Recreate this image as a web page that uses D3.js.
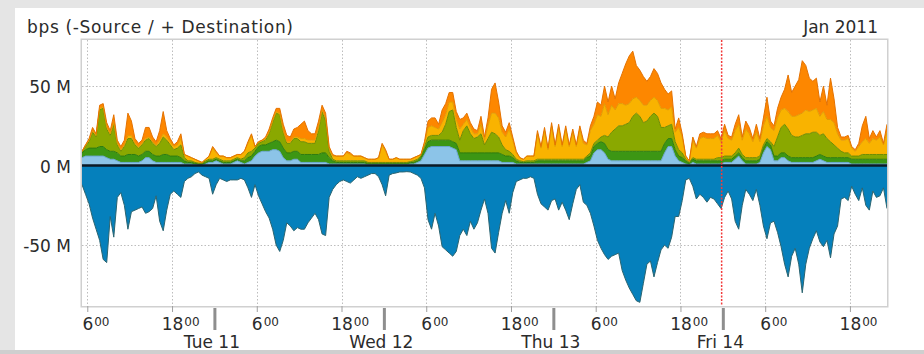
<!DOCTYPE html>
<html>
<head>
<meta charset="utf-8">
<script src="https://cdn.jsdelivr.net/npm/d3@7"></script>
<style>
  html, body { margin: 0; padding: 0; background: #e5e5e5; }
  svg { display: block; font-family: "DejaVu Sans", sans-serif; }
</style>
</head>
<body>
<svg id="chart" width="924" height="354"></svg>
<script>
// Half-hourly samples, Mon 10 Jan 2011 05:15 UTC onwards, values in Mbit/s
const seriesStart = Date.UTC(2011, 0, 10, 5, 15);
const stepMinutes = 30;

// Source traffic (drawn below zero)
const source = [
  12,18,24,33,40,47,59,61,32,45, 20,17,25,40,29,28,27,26,30,29,
  27,19,35,41,28,18,16,18,20,10, 8,7,5,4,6,7,8,18,12,8,
  9,10,9,9,9,8,9,14,20,12, 19,24,29,33,40,50,54,47,36,38,
  41,39,40,40,36,33,30,34,43,44, 20,15,12,10,9,10,11,9,7,8,
  7,6,5,5,7,12,19,6,5,4.6, 4,4,3.8,4,5,6,8,14,34,40,
  30,38,51,53,55,57,54,44,40,44, 35,40,36,28,21,30,52,55,42,30,
  22,30,17,10,9,8,8,7,8,18, 24,26,28,22,21,28,23,28,34,24,
  15,12,23,25,30,38,47,52,56,59, 57,56,55,66,72,77,81,85,86,74,
  62,60,70,61,53,50,52,45,32,32, 22,9,8,13,21,18,20,23,20,21,
  24,27,20,16,21,35,40,25,15,18, 22,15,25,38,46,36,35,42,51,62,
  70,57,52,62,80,62,52,46,41,48, 51,47,58,43,38,21,20,22,13,18,
  22,14,25,28,16,20,19,14,27
];

// Destination traffic, stacked above zero (bottom layer first)
const dstBlue = [
  5,6,6,6,6,6,6,5,4,4, 3,2,2,2,2,2,2,3,5,5,
  3,2,2,2,2,2,2,2,2,1, 1,1,0.5,0.5,0.5,1,2,2,3,2,
  1,1,1,2,3,2,1,2,3,6, 8,9,9,9,10,10,9,5,3,3,
  4,4,2,2,2,2,2,2,2,2, 1,1,1,1,1,1,1,1,1,1,
  1,0.5,0.5,0.5,0.5,0.5,0.5,0.5,0.5,0.5, 0.5,0.5,0.5,1,1,2,3,7,11,12,
  12,12,12,12,12,11,10,3,3,3, 3,3,3,3,3,3,3,3,3,2,
  2,2,2,1,1,1,1,1,1,1, 1,1,1,1,1,1,1,1,1,1,
  1,1,1,2,3,8,10,10,8,4, 3,3,3,3,3,3,3,3,3,3,
  3,3,3,3,3,8,12,12,6,3, 2,1,0.5,2,1,1,1,1,1,1,
  1,1,2,2,2,4,6,3,1,1, 1,1,2,8,12,10,3,3,5,5,
  3,2,2,2,2,2,2,2,3,4, 3,2,2,2,2,2,2,2,1,1,
  1,1,1,1,1,1,1,1,1
];
const dstGreen = [
  3,4,5,5,5,6,6,5,5,5, 5,4,4,5,5,5,4,4,4,4,
  4,4,4,5,5,4,4,4,3,2, 1,1,1,0.5,0.5,1,1,1,1,1,
  1,1,1,1,1,1,2,3,3,3, 4,4,4,5,5,6,6,6,5,5,
  5,5,5,5,5,5,5,5,6,6, 4,2,1,1,1,1,1,1,1,1,
  1,1,1,1,1,1,1,1,1,1, 1,1,1,1,1,1,2,3,4,4,
  4,4,4,4,4,4,4,5,5,5, 5,5,5,5,5,5,5,5,5,5,
  4,4,3,2,1,1,1,1,1,2, 2,2,2,2,2,2,2,2,2,2,
  2,2,2,3,3,4,4,5,6,6, 6,6,6,6,6,6,6,6,6,6,
  6,6,6,6,6,6,5,5,4,3, 3,2,1,2,2,2,2,2,2,2,
  2,2,2,2,2,2,2,2,2,2, 2,2,2,3,3,3,3,3,3,3,
  3,3,3,3,3,3,3,3,3,3, 3,3,3,3,3,3,3,3,3,3,
  3,3,3,3,3,3,3,3,3
];
const dstOlive = [
  1,2,4,10,7,23,24,13,10,17, 5,3,6,10,10,6,5,6,7,8,
  7,6,8,11,9,7,4,5,8,2, 1,1,0.5,0.5,0.5,1,1,1,1,1,
  1,1,1,1,1,1,2,3,3,2, 2,2,3,6,12,17,17,10,6,6,
  8,8,8,8,7,7,7,15,26,20, 4,1,1,1,1,1,1,1,1,1,
  1,0.5,0.5,0.5,0.5,0.5,0.5,0.5,0.5,0.5, 0.5,0.5,0.5,0.5,1,1,1,2,3,3,
  3,3,5,10,18,20,10,8,14,17, 12,9,10,12,5,9,13,12,10,6,
  4,3,2,1,1,0.5,1,1,1,1, 1,1,1,1,1,1,1,1,1,1,
  1,1,1,1,2,2,2,3,5,8, 12,14,16,16,17,18,22,24,22,18,
  19,22,24,22,15,10,8,9,5,4, 3,1,0.5,1,1,1,1,1,1,1,
  2,2,2,2,2,2,3,2,2,2, 2,2,2,2,2,2,6,12,16,18,
  17,14,13,13,14,15,15,16,15,12, 14,12,10,8,6,4,3,3,2,2,
  2,3,3,3,3,3,3,3,3
];
const dstAmber = [
  0,1,1,1,1,1,1,1,1,1, 1,1,1,2,2,1,1,1,1,1,
  1,1,2,2,2,2,2,2,4,2, 3,2,2,1.5,0.5,1,2,7,3,2,
  3,2,2,2,2,3,4,6,10,1, 1,1,1,1,1,1,1,1,1,1,
  1,1,2,2,2,2,2,2,1,2, 2,2,3,3,3,5,4,3,3,3,
  2,2,2,2,3,11,7,2,2,3, 2,2,2,1.5,2,2,1,2,6,6,
  5,4,6,6,6,5,5,7,4,4, 4,3,2,6,3,8,12,13,12,8,
  8,14,9,4,2,1.5,3,3,3,16, 7,18,6,21,8,20,8,19,8,17,
  8,19,10,7,14,12,16,13,20,14, 17,12,14,14,12,12,11,10,10,11,
  10,10,10,10,12,12,10,11,6,14, 10,2,1,11,7,13,14,13,13,13,
  14,10,16,11,10,14,15,9,18,15, 10,16,9,12,14,9,10,12,11,10,
  11,12,13,14,14,15,14,14,15,12, 14,12,14,14,9,7,8,9,5,3,
  6,8,10,7,10,9,11,6,14
];
const dstOrange = [
  0,0,1,2,1,2,2,3,2,5, 2,2,3,14,9,3,2,2,7,6,
  3,2,6,14,4,2,1,2,3,0, 0,0,0,0,0,0,0,1,1,0,
  0,0,0,0,0,0,0,1,1,0, 0,0,1,2,2,2,3,4,4,3,
  5,6,9,11,6,4,4,4,3,3, 1,1,0,0,0,1,1,0,0,0,
  0,0,0,0,0,1,1,0,0,0, 0,0,0,0,0,0,0,1,4,5,
  6,3,8,7,6,6,5,6,4,4, 3,3,2,5,2,5,15,19,10,4,
  3,4,2,1,0,0,0,0,0,2, 1,2,1,2,1,2,1,2,1,2,
  1,2,2,1,3,5,8,7,11,8, 12,7,13,19,26,30,30,20,19,18,
  15,15,18,17,16,12,10,10,2,6, 2,0,0,2,1,3,3,3,3,3,
  3,2,4,2,2,4,6,2,5,4, 2,5,2,5,12,4,3,6,8,12,
  23,15,19,22,33,28,21,18,19,9, 16,9,26,15,4,2,2,2,1,1,
  2,10,14,3,5,2,4,1,5
];

// Axis labels
const yTicks = [-50, 0, 50];
const hourLabels = [6, 18];
const dayLabels = ["Tue 11", "Wed 12", "Thu 13", "Fri 14"];
const titleText = "bps (-Source / + Destination)";
const periodText = "Jan 2011";
const nowMark = Date.UTC(2011, 0, 13, 23, 50);

// ---- layout ----
const W = 924, H = 354;
const plot = { left: 82, right: 887, top: 40, bottom: 306 };
const svg = d3.select("#chart");

const times = source.map((_, i) => new Date(seriesStart + i * stepMinutes * 60000));
const x = d3.scaleUtc()
  .domain([times[0], times[times.length - 1]])
  .range([plot.left, plot.right]);
const y = d3.scaleLinear().domain([-88.3, 79]).range([plot.bottom, plot.top]);

// page frame
svg.append("rect").attr("width", W).attr("height", H).attr("fill", "#e5e5e5");
svg.append("rect").attr("x", 15).attr("y", 8).attr("width", W - 15).attr("height", 342).attr("fill", "#ffffff");
svg.append("rect").attr("x", 0).attr("y", 350).attr("width", W).attr("height", 4).attr("fill", "#cfcfcf");

// grid (under the data)
const hourTicks = d3.utcHour.range(x.domain()[0], x.domain()[1])
  .filter(d => hourLabels.includes(d.getUTCHours()));
const dayTicks = d3.utcDay.range(x.domain()[0], x.domain()[1]);

const grid = svg.append("g").attr("stroke", "#bdbdbd").attr("stroke-width", 1)
  .attr("stroke-dasharray", "1.5,2");
grid.selectAll("line.v").data(hourTicks).join("line")
  .attr("x1", d => Math.round(x(d)) + 0.5).attr("x2", d => Math.round(x(d)) + 0.5)
  .attr("y1", plot.top).attr("y2", plot.bottom);
grid.selectAll("line.h").data(yTicks.filter(v => v !== 0)).join("line")
  .attr("x1", plot.left).attr("x2", plot.right)
  .attr("y1", d => Math.round(y(d)) + 0.5).attr("y2", d => Math.round(y(d)) + 0.5);

// data
svg.append("clipPath").attr("id", "plotClip").append("rect")
  .attr("x", plot.left).attr("y", plot.top)
  .attr("width", plot.right - plot.left).attr("height", plot.bottom - plot.top);
const dataG = svg.append("g").attr("clip-path", "url(#plotClip)");

const table = times.map((t, i) => ({
  t,
  blue: dstBlue[i], green: dstGreen[i], olive: dstOlive[i],
  amber: dstAmber[i], orange: dstOrange[i], src: source[i]
}));
const keys = ["blue", "green", "olive", "amber", "orange"];
const fills = { blue: "#8cc4e8", green: "#3c9614", olive: "#8aa800", amber: "#f9b300", orange: "#fd8700" };
const edges = { blue: "#6aa6cf", green: "#2e7c0e", olive: "#6f8c00", amber: "#e29c00", orange: "#e57200" };

// source below zero
dataG.append("path").datum(table)
  .attr("fill", "#0580bc")
  .attr("d", d3.area().x(d => x(d.t)).y0(y(0)).y1(d => y(-d.src)));
dataG.append("path").datum(table)
  .attr("fill", "none").attr("stroke", "#2b6470").attr("stroke-width", 1)
  .attr("d", d3.line().x(d => x(d.t)).y(d => y(-d.src)));

// destination stack above zero
const stacked = d3.stack().keys(keys)(table);
const areaGen = d3.area().x(d => x(d.data.t)).y0(d => y(d[0])).y1(d => y(d[1]));
const lineGen = d3.line().x(d => x(d.data.t)).y(d => y(d[1]));
dataG.selectAll("path.layer").data(stacked).join("path")
  .attr("class", "layer").attr("fill", s => fills[s.key]).attr("d", areaGen);
dataG.selectAll("path.edge").data(stacked).join("path")
  .attr("class", "edge").attr("fill", "none")
  .attr("stroke", s => edges[s.key]).attr("stroke-width", 1).attr("d", lineGen);

// zero rule
svg.append("line").attr("x1", plot.left).attr("x2", plot.right)
  .attr("y1", y(0)).attr("y2", y(0))
  .attr("stroke", "#0b1a26").attr("stroke-width", 2.5);

// current-time marker
svg.append("line").attr("x1", x(new Date(nowMark))).attr("x2", x(new Date(nowMark)))
  .attr("y1", plot.top).attr("y2", plot.bottom)
  .attr("stroke", "#f23a3a").attr("stroke-width", 1.5).attr("stroke-dasharray", "2,1.5");

// plot frame
svg.append("rect")
  .attr("x", plot.left - 0.75).attr("y", plot.top - 0.75)
  .attr("width", plot.right - plot.left + 1.5).attr("height", plot.bottom - plot.top + 1.5)
  .attr("fill", "none").attr("stroke", "#d0d0d0").attr("stroke-width", 1.5);

const textColor = "#2b2b2b";

// y axis
const yAxis = svg.append("g").attr("transform", "translate(71,0)")
  .call(d3.axisLeft(y).tickValues(yTicks).tickFormat(d => d + " M").tickSize(0).tickPadding(0));
yAxis.select(".domain").remove();
yAxis.selectAll("text").attr("fill", textColor).attr("font-size", 17)
  .attr("font-family", "DejaVu Sans").attr("dy", "0.38em");

// hour axis with superscript minutes
const hAxis = svg.append("g").attr("transform", `translate(0,${plot.bottom})`)
  .call(d3.axisBottom(x).tickValues(hourTicks).tickSize(6).tickFormat(d => d.getUTCHours()));
hAxis.select(".domain").remove();
hAxis.selectAll(".tick line").attr("stroke", "#a0a0a0");
hAxis.selectAll(".tick text").attr("fill", textColor).attr("font-size", 17)
  .attr("font-family", "DejaVu Sans").attr("y", 24).attr("dy", 0)
  .each(function () {
    const w = this.getComputedTextLength();
    d3.select(this.parentNode).append("text")
      .attr("x", w / 2 + 1).attr("y", 20)
      .attr("fill", textColor).attr("font-size", 12).attr("font-family", "DejaVu Sans")
      .attr("text-anchor", "start").text("00");
  });

// day axis
const dAxis = svg.append("g").attr("transform", `translate(0,${plot.bottom})`)
  .call(d3.axisBottom(x).tickValues(dayTicks).tickSize(24).tickFormat((d, i) => dayLabels[i]));
dAxis.select(".domain").remove();
dAxis.selectAll(".tick line").attr("y1", 2).attr("stroke", "#8e8e8e").attr("stroke-width", 3);
dAxis.selectAll(".tick text").attr("fill", textColor).attr("font-size", 17)
  .attr("font-family", "DejaVu Sans").attr("x", -3).attr("y", 42).attr("dy", 0);

// titles
svg.append("text").attr("x", 27).attr("y", 33)
  .attr("font-size", 17).attr("fill", textColor)
  .attr("textLength", 266).attr("lengthAdjust", "spacing").text(titleText);
svg.append("text").attr("x", 878).attr("y", 33).attr("text-anchor", "end")
  .attr("font-size", 17).attr("fill", textColor).text(periodText);
</script>
</body>
</html>
